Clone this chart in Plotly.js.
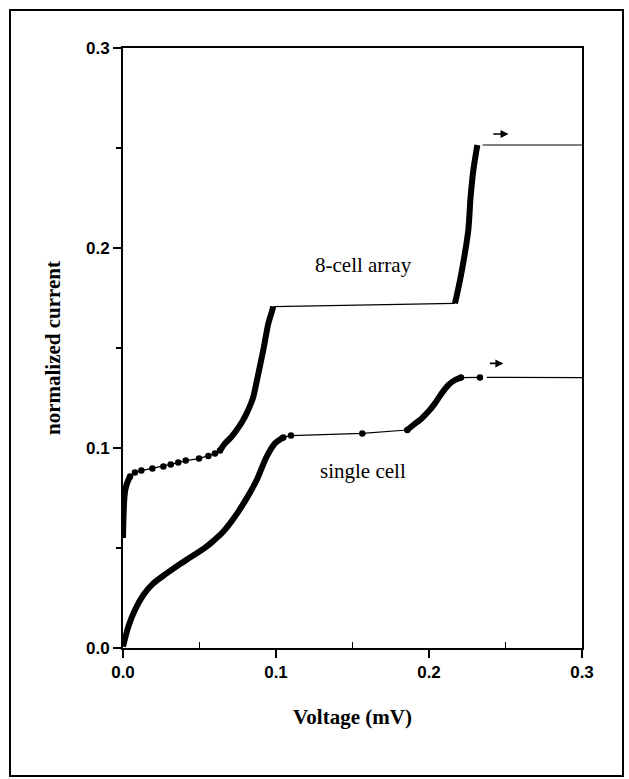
<!DOCTYPE html>
<html>
<head>
<meta charset="utf-8">
<script src="https://cdn.plot.ly/plotly-3.0.1.min.js"></script>
<style>
html,body{margin:0;padding:0;background:#fff;}
#chart{width:629px;height:779px;}
</style>
</head>
<body>
<div id="chart"></div>
<script>
// ---------- 8-cell array ----------
const arrayRiseX   = [0, 0.0003, 0.0008, 0.0015, 0.0025, 0.0035, 0.0046];
const arrayRiseY   = [0.055, 0.065, 0.074, 0.079, 0.082, 0.084, 0.0857];
const arrayDotsX   = [0.0046, 0.0078, 0.012, 0.0192, 0.0264, 0.0312, 0.0361, 0.041, 0.0497, 0.0558, 0.0601, 0.0634];
const arrayDotsY   = [0.0857, 0.0877, 0.0887, 0.0898, 0.0907, 0.0918, 0.0927, 0.0937, 0.0947, 0.096, 0.0973, 0.0987];
const arrayStep1X  = [0.0634, 0.0667, 0.0708, 0.0743, 0.0778, 0.0808, 0.0835, 0.0852, 0.0885, 0.0917, 0.095, 0.0972, 0.0982];
const arrayStep1Y  = [0.0987, 0.1023, 0.1055, 0.109, 0.113, 0.1173, 0.122, 0.1257, 0.1373, 0.149, 0.1623, 0.168, 0.1707];
const arrayFlatX   = [0.0982, 0.217];
const arrayFlatY   = [0.1707, 0.1723];
const arrayStep2X  = [0.217, 0.2203, 0.2231, 0.2257, 0.2272, 0.229, 0.2316];
const arrayStep2Y  = [0.1723, 0.184, 0.1957, 0.209, 0.2257, 0.239, 0.2515];
const arrayTailX   = [0.235, 0.3];
const arrayTailY   = [0.2515, 0.2515];

// ---------- single cell ----------
const singleRiseX  = [0, 0.0035, 0.0078, 0.0133, 0.0198, 0.0285, 0.0373, 0.0438, 0.0482, 0.053, 0.058, 0.0656, 0.0732, 0.0808, 0.0874, 0.0939, 0.0993, 0.1048];
const singleRiseY  = [0.0007, 0.0107, 0.019, 0.0265, 0.0323, 0.0373, 0.042, 0.0452, 0.0474, 0.0498, 0.0528, 0.0582, 0.0657, 0.0748, 0.084, 0.0957, 0.1023, 0.1053];
const singleDotsX  = [0.1048, 0.1098, 0.1564, 0.1858];
const singleDotsY  = [0.1053, 0.1062, 0.1073, 0.109];
const singleStepX  = [0.1858, 0.1897, 0.1952, 0.1996, 0.2039, 0.2083, 0.2127, 0.217, 0.2209];
const singleStepY  = [0.109, 0.1115, 0.1148, 0.1182, 0.1223, 0.1273, 0.1315, 0.134, 0.1352];
const singleDots2X = [0.2209, 0.2333];
const singleDots2Y = [0.1352, 0.1353];
const singleTailX  = [0.2377, 0.3];
const singleTailY  = [0.1353, 0.1352];

// ---------- labels / arrows ----------
const labelText = ['8-cell array', 'single cell'];
const labelX    = [0.157, 0.157];
const labelY    = [0.1915, 0.0885];
const arrowTailX = [0.241, 0.2388];
const arrowHeadX = [0.252, 0.2486];
const arrowY     = [0.257, 0.1423];

const xTickVals = [0, 0.1, 0.2, 0.3];
const xTickText = ['0.0', '0.1', '0.2', '0.3'];
const yTickVals = [0, 0.1, 0.2, 0.3];
const yTickText = ['0.0', '0.1', '0.2', '0.3'];

const thick = (x, y) => ({x, y, type:'scatter', mode:'lines', line:{color:'#000', width:6, shape:'spline', smoothing:0.8}, hoverinfo:'skip', showlegend:false});
const thin  = (x, y) => ({x, y, type:'scatter', mode:'lines', line:{color:'#000', width:1.2}, hoverinfo:'skip', showlegend:false});
const dots  = (x, y) => ({x, y, type:'scatter', mode:'lines+markers', line:{color:'#000', width:1.2}, marker:{color:'#000', size:6.5}, hoverinfo:'skip', showlegend:false});

const data = [
  thick(arrayRiseX, arrayRiseY), dots(arrayDotsX, arrayDotsY), thick(arrayStep1X, arrayStep1Y),
  thin(arrayFlatX, arrayFlatY), thick(arrayStep2X, arrayStep2Y), thin(arrayTailX, arrayTailY),
  thick(singleRiseX, singleRiseY), dots(singleDotsX, singleDotsY), thick(singleStepX, singleStepY),
  dots(singleDots2X, singleDots2Y), thin(singleTailX, singleTailY)
];

const tickFont = {family:'Liberation Sans, Arial, sans-serif', size:17, color:'#000', weight:'bold'};
const serif = 'Liberation Serif, Times New Roman, serif';

const annotations = labelText.map((t, i) => ({
  x: labelX[i], y: labelY[i], xref:'x', yref:'y', text: t, showarrow:false,
  font:{family:serif, size:21, color:'#000'}
})).concat(arrowY.map((y, i) => ({
  x: arrowHeadX[i], y: y, ax: arrowTailX[i], ay: y, xref:'x', yref:'y', axref:'x', ayref:'y',
  text:'', showarrow:true, arrowhead:2, arrowsize:1, arrowwidth:1.6, arrowcolor:'#000'
})));

const L = 123, R = 47, T = 48, B = 131, W = 629, H = 779;
const pw = W - L - R, ph = H - T - B;
const fx = px => (px - L) / pw;
const fy = py => (H - B - py) / ph;

const layout = {
  width: W, height: H,
  margin:{l:L, r:R, t:T, b:B, pad:0},
  paper_bgcolor:'#fff', plot_bgcolor:'#fff',
  showlegend:false,
  xaxis:{
    range:[0,0.3], tickvals:xTickVals, ticktext:xTickText,
    ticks:'outside', ticklen:8, tickwidth:2, tickcolor:'#000',
    minor:{tickvals:[0.05,0.15,0.25], ticks:'inside', ticklen:6, tickwidth:1.5, tickcolor:'#000'},
    showline:true, linewidth:2, linecolor:'#000', mirror:true,
    showgrid:false, zeroline:false, tickfont:tickFont,
    title:{text:'Voltage (mV)', standoff:28, font:{family:serif, size:21, color:'#000', weight:'bold'}}
  },
  yaxis:{
    range:[0,0.3], tickvals:yTickVals, ticktext:yTickText,
    ticks:'outside', ticklen:8, tickwidth:2, tickcolor:'#000',
    minor:{tickvals:[0.05,0.15,0.25], ticks:'outside', ticklen:5, tickwidth:1.5, tickcolor:'#000'},
    showline:true, linewidth:2, linecolor:'#000', mirror:true,
    showgrid:false, zeroline:false, tickfont:tickFont,
    title:{text:'normalized current', standoff:20, font:{family:serif, size:21, color:'#000', weight:'bold'}}
  },
  xaxis2:{
    overlaying:'x', anchor:'y', side:'top', range:[0,0.3], tickvals:xTickVals,
    ticks:'inside', ticklen:8, tickwidth:2, tickcolor:'#000', showticklabels:false,
    minor:{tickvals:[0.05,0.15,0.25], ticks:'inside', ticklen:5, tickwidth:1.5, tickcolor:'#000'},
    showline:false, showgrid:false, zeroline:false
  },
  yaxis2:{
    overlaying:'y', anchor:'x', side:'right', range:[0,0.3], tickvals:yTickVals,
    ticks:'inside', ticklen:8, tickwidth:2, tickcolor:'#000', showticklabels:false,
    minor:{tickvals:[0.05,0.15,0.25], ticks:'inside', ticklen:5, tickwidth:1.5, tickcolor:'#000'},
    showline:false, showgrid:false, zeroline:false
  },
  annotations: annotations,
  shapes:[{
    type:'rect', xref:'paper', yref:'paper',
    x0: fx(10), x1: fx(623), y0: fy(776), y1: fy(10),
    line:{color:'#000', width:2}, fillcolor:'rgba(0,0,0,0)'
  }]
};

Plotly.newPlot('chart', data, layout, {staticPlot:true, displayModeBar:false});
</script>
</body>
</html>
